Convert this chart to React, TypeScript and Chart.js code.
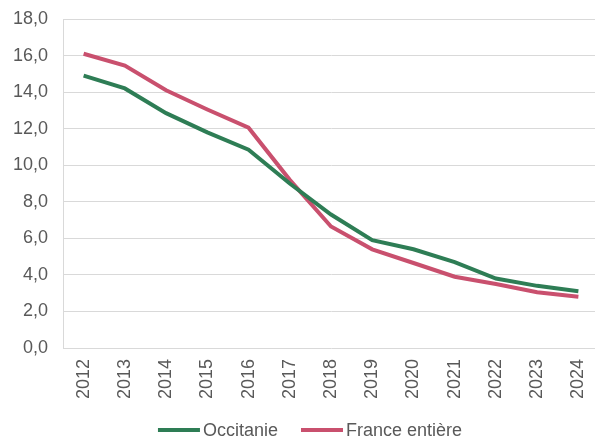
import React, { useEffect, useRef } from "react";
import { Chart, registerables } from "chart.js";

Chart.register(...registerables);

const years = ["2012", "2013", "2014", "2015", "2016", "2017", "2018", "2019", "2020", "2021", "2022", "2023", "2024"];
const occitanie = [14.9, 14.2, 12.85, 11.8, 10.85, 9.0, 7.3, 5.9, 5.4, 4.7, 3.8, 3.4, 3.1];
const france = [16.1, 15.45, 14.1, 13.05, 12.05, 9.2, 6.65, 5.4, 4.65, 3.9, 3.5, 3.05, 2.8];
const seriesNames = ["Occitanie", "France entière"];
const yTicks = { min: 0, max: 18, step: 2 };

const GREEN = "#2e7d55";
const RED = "#c9506e";
const FONT = "'Liberation Sans', Arial, sans-serif";
const TEXT = "#595959";

const lineLegend = {
  id: "lineLegend",
  afterDraw(chart: any) {
    const ctx = chart.ctx as CanvasRenderingContext2D;
    const ds = chart.data.datasets;
    const boxW = 42;
    const boxH = 4;
    const gap = 3;
    const itemGap = 23;
    const cy = 430;
    ctx.save();
    ctx.font = `18px ${FONT}`;
    const widths = ds.map((d: any) => ctx.measureText(d.label).width);
    const total = widths.reduce((a: number, w: number) => a + boxW + gap + w, 0) + itemGap * (ds.length - 1);
    let x = 310 - total / 2;
    ctx.textBaseline = "middle";
    ctx.textAlign = "left";
    ds.forEach((d: any, i: number) => {
      ctx.fillStyle = d.borderColor;
      ctx.fillRect(x, cy - boxH / 2, boxW, boxH);
      x += boxW + gap;
      ctx.fillStyle = TEXT;
      ctx.fillText(d.label, x, cy + 1);
      x += widths[i] + itemGap;
    });
    ctx.restore();
  },
};

export default function App() {
  const ref = useRef<HTMLCanvasElement | null>(null);
  useEffect(() => {
    if (!ref.current) return;
    const chart = new Chart(ref.current, {
      type: "line",
      data: {
        labels: years,
        datasets: [
          {
            label: seriesNames[0],
            data: occitanie,
            borderColor: GREEN,
            backgroundColor: GREEN,
            borderWidth: 4,
            pointRadius: 0,
            tension: 0,
          },
          {
            label: seriesNames[1],
            data: france,
            borderColor: RED,
            backgroundColor: RED,
            borderWidth: 4,
            pointRadius: 0,
            tension: 0,
          },
        ],
      },
      plugins: [lineLegend],
      options: {
        responsive: false,
        animation: false,
        layout: { padding: { top: 19, right: 1, left: 0, bottom: 0 } },
        plugins: {
          tooltip: { enabled: false },
          legend: { display: false },
        },
        scales: {
          x: {
            offset: true,
            grid: { display: false, drawTicks: false },
            border: { display: false },
            ticks: {
              color: TEXT,
              font: { family: FONT, size: 18 },
              maxRotation: 90,
              minRotation: 90,
              padding: 11,
            },
            afterFit: (s: any) => {
              s.height = 91;
              s.paddingLeft = 0;
              s.paddingRight = 0;
            },
          },
          y: {
            min: yTicks.min,
            max: yTicks.max,
            grid: { color: "#d9d9d9", lineWidth: 1, drawTicks: false },
            border: { display: true, color: "#d9d9d9" },
            ticks: {
              stepSize: yTicks.step,
              color: TEXT,
              font: { family: FONT, size: 18 },
              padding: 15,
              callback: (v: any) => Number(v).toFixed(1).replace(".", ","),
            },
            afterFit: (s: any) => {
              s.width = 63;
              s.paddingTop = 0;
              s.paddingBottom = 0;
            },
          },
        },
      },
    });
    return () => chart.destroy();
  }, []);
  return (
    <div style={{ position: "fixed", left: 0, top: 0, width: 595, height: 439, overflow: "hidden", background: "#fff" }}>
      <canvas ref={ref} width={600} height={439} />
    </div>
  );
}
